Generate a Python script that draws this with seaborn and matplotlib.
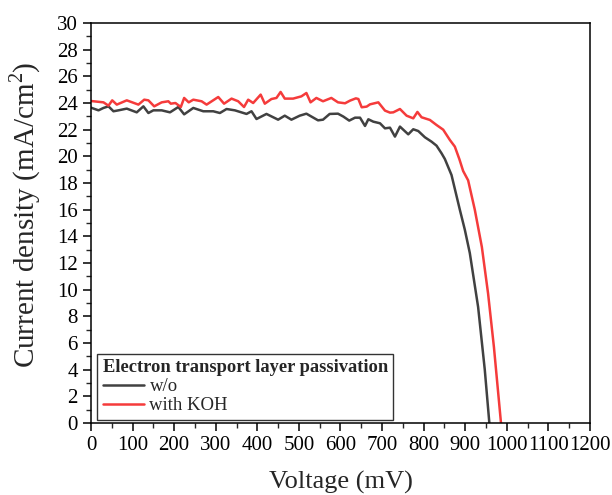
import matplotlib
matplotlib.use("Agg")
import matplotlib.pyplot as plt
import seaborn as sns
import pandas as pd
from matplotlib.ticker import MultipleLocator

wo_v = [0, 18, 30, 42, 54, 66, 86, 110, 126, 138, 150, 170, 190, 210, 224, 246, 270, 294, 310, 326,
        346, 374, 386, 398, 422, 450, 466, 482, 502, 518, 546, 558, 574, 594, 607, 621, 635, 647, 659,
        667, 679, 695, 707, 719, 731, 743, 763, 775, 787, 803, 819, 831, 843, 851, 867, 887, 899, 911,
        931, 947, 958]
wo_j = [23.65, 23.45, 23.63, 23.75, 23.38, 23.45, 23.58, 23.3, 23.75, 23.25, 23.45, 23.45, 23.3, 23.7,
        23.15, 23.63, 23.38, 23.38, 23.25, 23.55, 23.45, 23.18, 23.38, 22.8, 23.18, 22.75, 23.05, 22.75,
        23.05, 23.2, 22.7, 22.75, 23.18, 23.2, 22.98, 22.68, 22.9, 22.9, 22.28, 22.78, 22.6, 22.48, 22.1,
        22.15, 21.48, 22.23, 21.65, 22.03, 21.9, 21.43, 21.1, 20.8, 20.23, 19.8, 18.6, 16.0, 14.5, 12.75,
        8.7, 4.0, 0.0]

koh_v = [0, 30, 42, 51, 62, 86, 114, 128, 138, 152, 170, 186, 192, 203, 216, 224, 235, 246, 266, 278,
         306, 320, 338, 354, 368, 378, 390, 408, 418, 434, 446, 456, 466, 486, 506, 518, 528, 542, 558,
         578, 594, 611, 623, 637, 643, 651, 663, 671, 691, 707, 719, 727, 743, 759, 775, 785, 795, 815,
         831, 847, 863, 875, 886, 895, 907, 923, 940, 955, 969, 986]
koh_j = [24.15, 24.05, 23.8, 24.2, 23.88, 24.2, 23.88, 24.25, 24.2, 23.75, 24.05, 24.13, 23.95, 24.0,
         23.7, 24.38, 24.05, 24.25, 24.13, 23.88, 24.45, 23.95, 24.33, 24.13, 23.7, 24.25, 24.0, 24.63,
         23.95, 24.3, 24.38, 24.83, 24.33, 24.33, 24.5, 24.75, 24.05, 24.38, 24.13, 24.38, 24.05, 23.98,
         24.18, 24.35, 24.3, 23.68, 23.73, 23.9, 24.05, 23.43, 23.28, 23.3, 23.55, 23.05, 22.85, 23.33,
         22.93, 22.73, 22.35, 22.0, 21.23, 20.73, 19.78, 18.9, 18.2, 16.0, 13.2, 9.7, 5.7, 0.0]

series_names = ["w/o", "with KOH"]
legend_title = "Electron transport layer passivation"

df = pd.concat([
    pd.DataFrame({"V": wo_v, "J": wo_j, "sample": series_names[0]}),
    pd.DataFrame({"V": koh_v, "J": koh_j, "sample": series_names[1]}),
], ignore_index=True)

sns.set_style("ticks")
plt.rcParams["font.family"] = ["Liberation Serif", "DejaVu Serif"]
plt.rcParams["mathtext.fontset"] = "custom"
plt.rcParams["mathtext.rm"] = "Liberation Serif"

fig = plt.figure(figsize=(6.12, 4.95), dpi=100)
ax = fig.add_axes([0.1487, 0.1455, 0.8153, 0.808])

sns.lineplot(data=df, x="V", y="J", hue="sample", sort=False, estimator=None,
             palette={series_names[0]: "#414141", series_names[1]: "#f53b3b"},
             linewidth=1.8, ax=ax)

ax.set_xlim(0, 1200)
ax.set_ylim(0, 30)
ax.xaxis.set_major_locator(MultipleLocator(100))
ax.xaxis.set_minor_locator(MultipleLocator(50))
ax.yaxis.set_major_locator(MultipleLocator(2))
ax.yaxis.set_minor_locator(MultipleLocator(1))
ax.tick_params(which="major", direction="out", length=6, width=1.1, labelsize=15, colors="black")
ax.tick_params(which="minor", direction="out", length=3.5, width=1.0)
for s in ax.spines.values():
    s.set_color("black")
    s.set_linewidth(1.1)

ax.set_xlabel("Voltage (mV)", fontsize=19, labelpad=11)
ax.set_ylabel(r"Current density (mA/cm$^\mathrm{2}$)", fontsize=21)
ax.yaxis.set_label_coords(-0.096, 0.52)

leg = ax.legend(title=legend_title, loc="lower left", bbox_to_anchor=(0.012, 0.008),
                borderaxespad=0, fontsize=13.5, title_fontproperties={"weight": "bold", "size": 13.3},
                frameon=True, fancybox=False, handlelength=2.2, handletextpad=0.3,
                labelspacing=0.1, borderpad=0.3)
leg._legend_box.align = "left"
leg.get_frame().set_edgecolor("black")
leg.get_frame().set_linewidth(1.0)

fig.savefig("out.png", dpi=100)
